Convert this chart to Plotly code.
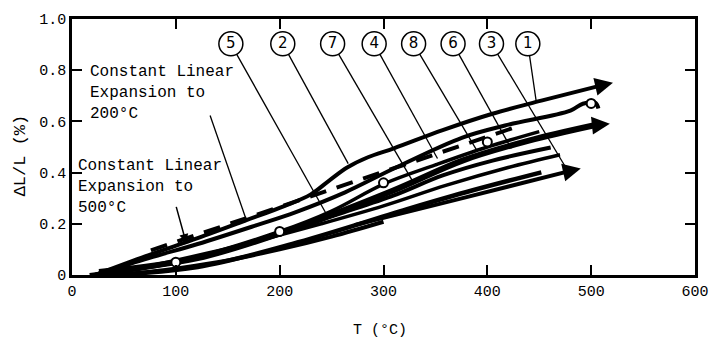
import plotly.graph_objects as go

# ---- data (T in °C, dL/L in %) ----
c1_T = [22, 74, 121, 168, 205, 230, 248, 265, 285, 310, 357, 405, 452, 508]
c1_y = [0.0, 0.078, 0.144, 0.214, 0.27, 0.315, 0.37, 0.42, 0.46, 0.495, 0.566, 0.63, 0.681, 0.739]
c2_T = [22, 74, 121, 178, 215, 263, 310, 376, 417, 480, 492, 504, 507]
c2_y = [0.0, 0.066, 0.121, 0.195, 0.245, 0.323, 0.416, 0.537, 0.584, 0.642, 0.669, 0.673, 0.65]
c3_T = [26, 121, 215, 310, 376, 440, 502]
c3_y = [0.012, 0.066, 0.183, 0.331, 0.447, 0.525, 0.584]
c4_T = [17, 121, 197, 253, 310, 357, 405, 461]
c4_y = [0.0, 0.066, 0.156, 0.233, 0.311, 0.389, 0.447, 0.498]
c5_T = [36, 121, 218, 326, 386, 452]
c5_y = [0.0, 0.031, 0.128, 0.261, 0.331, 0.401]
c6_T = [25, 100, 200, 250, 300, 350, 400, 450]
c6_y = [0.0, 0.05, 0.17, 0.25, 0.355, 0.43, 0.50, 0.56]
c7_T = [272, 380, 478]
c7_y = [0.195, 0.304, 0.405]
c8_T = [30, 80, 130, 180, 240, 300, 360, 420, 470]
c8_y = [0.0, 0.04, 0.085, 0.135, 0.2, 0.27, 0.35, 0.42, 0.47]
c9_T = [45, 90, 140, 200, 250, 300]
c9_y = [0.0, 0.02, 0.05, 0.1, 0.15, 0.208]
curves = [(c1_T, c1_y, 4), (c2_T, c2_y, 4), (c3_T, c3_y, 6), (c4_T, c4_y, 4),
          (c5_T, c5_y, 4.5), (c6_T, c6_y, 3.5), (c7_T, c7_y, 4), (c8_T, c8_y, 3.5), (c9_T, c9_y, 4)]

# arrow tips at the curve ends: (tail T, tail y, tip T, tip y)
arrows = [(508, 0.739, 521, 0.751), (502, 0.584, 518, 0.591), (478, 0.405, 490, 0.416)]

dash_T = [76, 426]
dash_y = [0.096, 0.576]

circ_T = [100, 200, 300, 400, 500]
circ_y = [0.05, 0.17, 0.36, 0.52, 0.67]

lab_text = ["5", "2", "7", "4", "8", "6", "3", "1"]
lab_T = [153, 203, 251, 291, 329, 367, 404, 439]
lab_y = [0.903] * 8
ptr_T = [244, 266, 329, 352, 390, 423, 477, 447]
ptr_y = [0.245, 0.435, 0.36, 0.455, 0.486, 0.494, 0.41, 0.68]

x_ticks = [0, 100, 200, 300, 400, 500, 600]
y_ticks = [0, 0.2, 0.4, 0.6, 0.8, 1.0]
y_ticktext = ["0", "0.2", "0.4", "0.6", "0.8", "1.0"]

MONO = "Liberation Mono"
fig = go.Figure()

# pointer lines from labels
for lt, ly, pt, py in zip(lab_T, lab_y, ptr_T, ptr_y):
    fig.add_trace(go.Scatter(x=[lt, pt], y=[ly, py], mode="lines",
                             line=dict(color="black", width=1.3), hoverinfo="skip"))
# pointer for 200°C text
fig.add_trace(go.Scatter(x=[133, 168], y=[0.623, 0.214], mode="lines",
                         line=dict(color="black", width=1.3), hoverinfo="skip"))

for T, y, w in curves:
    fig.add_trace(go.Scatter(x=T, y=y, mode="lines",
                             line=dict(color="black", width=w, shape="spline", smoothing=1.0),
                             hoverinfo="skip"))

fig.add_trace(go.Scatter(x=dash_T, y=dash_y, mode="lines",
                         line=dict(color="black", width=4, dash="17px,11px"), hoverinfo="skip"))

fig.add_trace(go.Scatter(x=circ_T, y=circ_y, mode="markers",
                         marker=dict(symbol="circle", size=9, color="white", line=dict(color="black", width=2)),
                         hoverinfo="skip"))

fig.add_trace(go.Scatter(x=lab_T, y=lab_y, mode="markers+text", text=lab_text, textposition="middle center",
                         textfont=dict(family="DejaVu Sans", size=15, color="black"),
                         marker=dict(symbol="circle", size=24, color="white", line=dict(color="black", width=1.5)),
                         hoverinfo="skip", cliponaxis=False))

ann = []
for tx, ty, hx, hy in arrows:
    ann.append(dict(x=hx, y=hy, ax=tx, ay=ty, xref="x", yref="y", axref="x", ayref="y",
                    showarrow=True, arrowhead=2, arrowsize=1.2, arrowwidth=3, arrowcolor="black", text=""))
ann.append(dict(x=110, y=0.125, ax=100, ay=0.272, xref="x", yref="y", axref="x", ayref="y",
                showarrow=True, arrowhead=2, arrowsize=1.2, arrowwidth=1.5, arrowcolor="black", text=""))
ann.append(dict(x=15, y=0.835, xref="x", yref="y", xanchor="left", yanchor="top", align="left", showarrow=False,
                text="Constant Linear<br>Expansion to<br>200°C", font=dict(family=MONO, size=16, color="black")))
ann.append(dict(x=4, y=0.47, xref="x", yref="y", xanchor="left", yanchor="top", align="left", showarrow=False,
                text="Constant Linear<br>Expansion to<br>500°C", font=dict(family=MONO, size=16, color="black")))
ann.append(dict(x=-0.082, y=0.467, xref="paper", yref="paper", xanchor="center", yanchor="middle",
                textangle=-90, showarrow=False, text="ΔL/L (%)", font=dict(family=MONO, size=17, color="black")))
ann.append(dict(x=0.494, y=-0.218, xref="paper", yref="paper", xanchor="center", yanchor="middle",
                showarrow=False, text="T (°C)", font=dict(family=MONO, size=15, color="black")))

axis_common = dict(showline=True, linecolor="black", linewidth=2.5, mirror="ticks", ticks="inside",
                   ticklen=10, tickwidth=2, tickcolor="black", showgrid=False, zeroline=False,
                   tickfont=dict(family=MONO, size=15, color="black"))
fig.update_layout(
    width=721, height=339, autosize=False, showlegend=False,
    margin=dict(l=72, r=14, t=18, b=64),
    paper_bgcolor="white", plot_bgcolor="white",
    xaxis=dict(range=[0, 600], tickvals=x_ticks, ticktext=[str(v) for v in x_ticks], **axis_common),
    yaxis=dict(range=[0, 1], tickvals=y_ticks, ticktext=y_ticktext, **axis_common),
    annotations=ann,
)
fig.write_html("out.html")
